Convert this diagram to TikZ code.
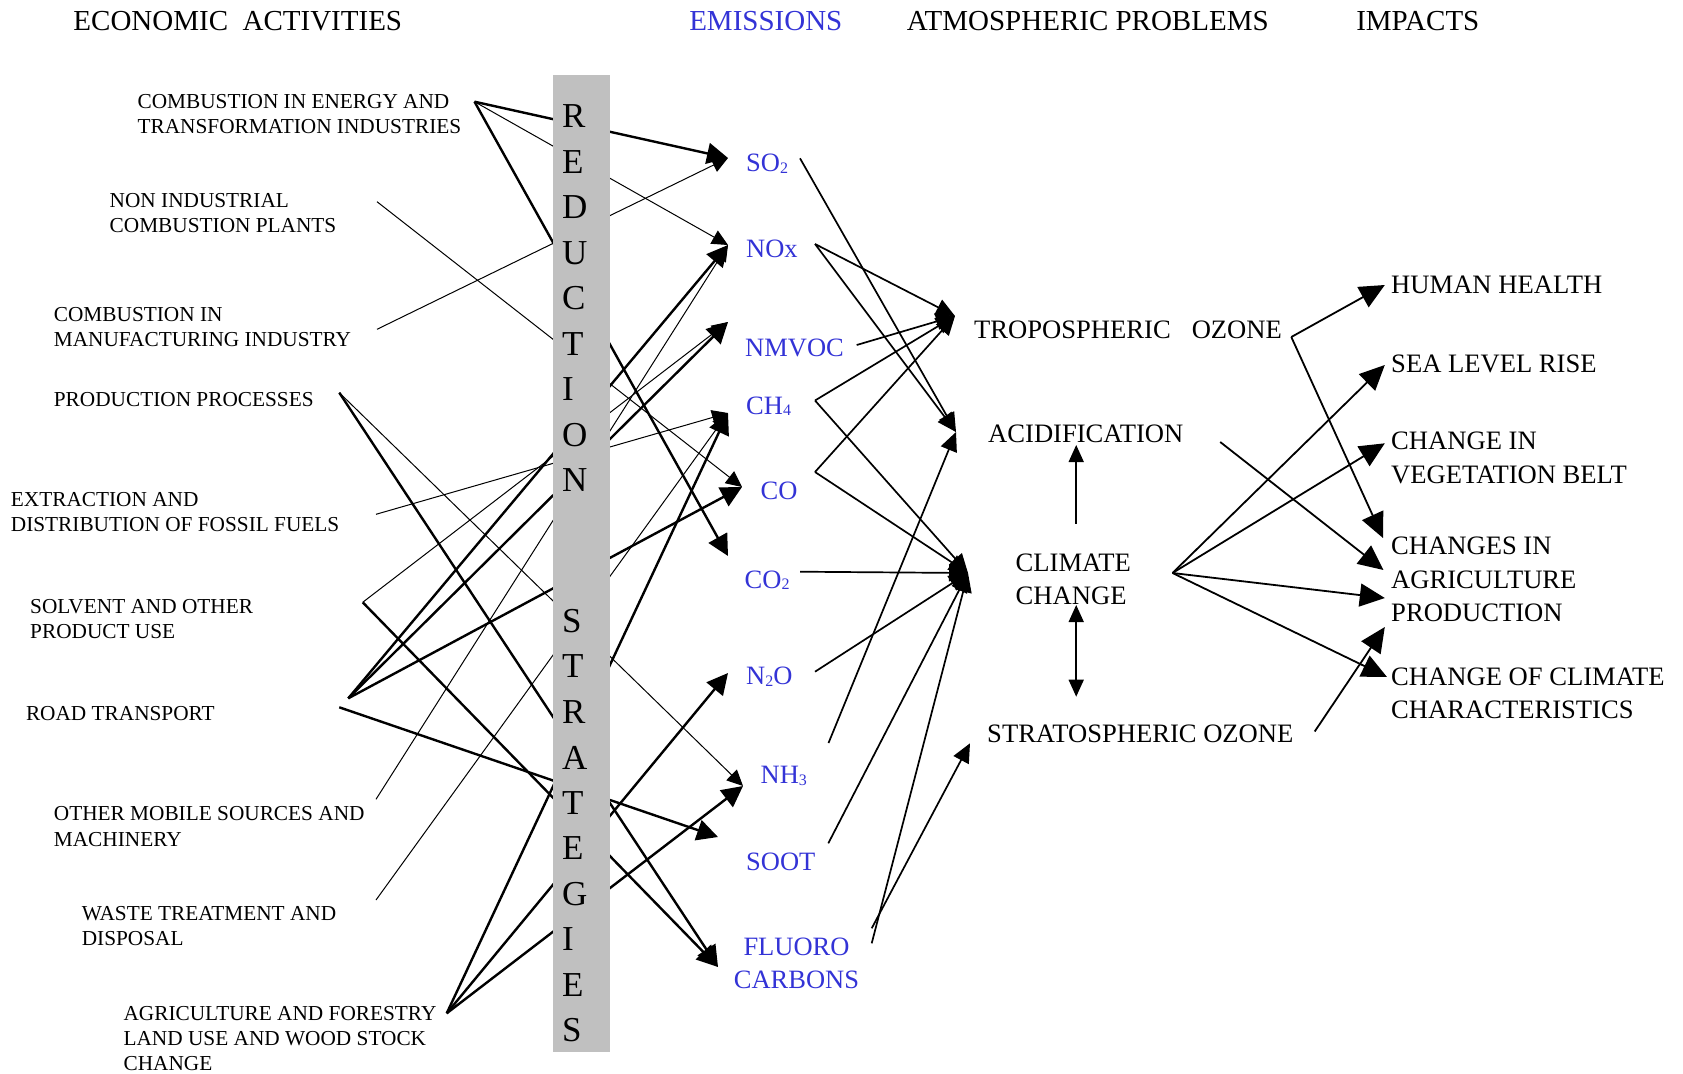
\documentclass[tikz,border=0pt]{standalone}
\usepackage{fontspec}
\setmainfont{Liberation Serif}
\usepackage{xcolor}
\usepackage{tikz}
\usetikzlibrary{arrows.meta}
\definecolor{emisBlue}{RGB}{51,51,214}
\definecolor{barGray}{RGB}{192,192,192}
\newcommand{\hdfont}{\fontsize{29}{34}\selectfont}
\newcommand{\srcfont}{\fontsize{21.3}{25.2}\selectfont}
\newcommand{\emisfont}{\fontsize{26.5}{32.5}\selectfont}
\newcommand{\probfont}{\fontsize{26.6}{33.5}\selectfont}
\newcommand{\barfont}{\fontsize{35}{40}\selectfont}
\newcommand{\emsub}[1]{\raisebox{-1.5pt}{\fontsize{16}{16}\selectfont #1}}

\begin{document}
\begin{tikzpicture}[x=1pt, y=-1pt,
    heading/.style={inner sep=0pt, font=\hdfont},
    srclabel/.style={anchor=west, inner sep=0pt, align=left, font=\srcfont},
    emlabel/.style={anchor=base west, inner sep=0pt, text=emisBlue, font=\emisfont},
    problabel/.style={anchor=base west, inner sep=0pt, align=left, font=\probfont},
    barletter/.style={anchor=west, inner sep=0pt, font=\barfont},
    thickarr/.style={line width=2.4pt, -{Triangle[length=21pt,width=21pt]}},
    thinarr/.style={line width=1pt, -{Triangle[length=16pt,width=15pt]}},
    linkarr/.style={line width=1.7pt, -{Triangle[length=19pt,width=17pt]}},
    vertarr/.style={line width=1.6pt, -{Triangle[length=17pt,width=15pt]}},
    effarr/.style={line width=1.8pt, -{Triangle[length=25pt,width=23pt]}}]
  \useasboundingbox (0,0) rectangle (1683,1073);

  % column headings
  \node[heading] (hdEcon) at (237.8,21.5) {ECONOMIC\ \ ACTIVITIES};
  \node[heading, text=emisBlue] (hdEmis) at (765.8,21.5) {EMISSIONS};
  \node[heading] (hdAtm) at (1087.8,21.5) {ATMOSPHERIC PROBLEMS};
  \node[heading] (hdImp) at (1417.8,21.5) {IMPACTS};

  % economic activities
  \node[srclabel] (energy) at (137.4,114.3) {COMBUSTION IN ENERGY AND\\TRANSFORMATION INDUSTRIES};
  \node[srclabel] (nonind) at (109.5,213) {NON INDUSTRIAL\\COMBUSTION PLANTS};
  \node[srclabel] (manuf) at (53.7,327.4) {COMBUSTION IN\\MANUFACTURING INDUSTRY};
  \node[srclabel] (prodproc) at (53.7,399.3) {PRODUCTION PROCESSES};
  \node[srclabel] (extract) at (10.7,512) {EXTRACTION AND\\DISTRIBUTION OF FOSSIL FUELS};
  \node[srclabel] (solvent) at (30,619.3) {SOLVENT AND OTHER\\PRODUCT USE};
  \node[srclabel] (road) at (25.8,713.7) {ROAD TRANSPORT};
  \node[srclabel] (othermob) at (53.7,826.5) {OTHER MOBILE SOURCES AND\\MACHINERY};
  \node[srclabel] (waste) at (81.6,926.3) {WASTE TREATMENT AND\\DISPOSAL};
  \node[srclabel] (agric) at (123.4,1038.6) {AGRICULTURE AND FORESTRY\\LAND USE AND WOOD STOCK\\CHANGE};

  % emissions
  \node[emlabel] (so2) at (746,171.8) {SO\emsub{2}};
  \node[emlabel] (nox) at (746,257.3) {NOx};
  \node[emlabel] (nmvoc) at (745,356.8) {NMVOC};
  \node[emlabel] (ch4) at (746,414.3) {CH\emsub{4}};
  \node[emlabel] (co) at (760.5,499.1) {CO};
  \node[emlabel] (co2) at (744.5,588.2) {CO\emsub{2}};
  \node[emlabel] (n2o) at (746,684.7) {N\emsub{2}O};
  \node[emlabel] (nh3) at (760.5,783.8) {NH\emsub{3}};
  \node[emlabel] (soot) at (746,870.2) {SOOT};
  \node[inner sep=0pt, align=center, text=emisBlue, font=\emisfont] (fluoro) at (796.5,963.4) {FLUORO\\CARBONS};

  % atmospheric problems
  \node[problabel] (tropo) at (974,338.8) {TROPOSPHERIC\hspace{21pt}OZONE};
  \node[problabel] (acid) at (988,442.6) {ACIDIFICATION};
  \node[problabel, anchor=west] (climate) at (1015.5,579.5) {CLIMATE\\CHANGE};
  \node[problabel] (strato) at (987,742.1) {STRATOSPHERIC OZONE};

  % impacts
  \node[problabel] (health) at (1391,293.5) {HUMAN HEALTH};
  \node[problabel] (sealevel) at (1391,372.1) {SEA LEVEL RISE};
  \node[problabel, anchor=west] (vegbelt) at (1391,458) {CHANGE IN\\VEGETATION BELT};
  \node[problabel, anchor=west] (agriprod) at (1391,579.5) {CHANGES IN\\AGRICULTURE\\PRODUCTION};
  \node[problabel, anchor=west] (climchar) at (1391,693.3) {CHANGE OF CLIMATE\\CHARACTERISTICS};

  % line ends
  \coordinate (energy-o) at (474.5,101.7);
  \coordinate (nonind-o) at (377,201.7);
  \coordinate (manuf-o) at (377,329.3);
  \coordinate (prodproc-o) at (339.3,392.7);
  \coordinate (extract-o) at (376,514.3);
  \coordinate (solvent-o) at (362.7,602.3);
  \coordinate (road-o) at (348.3,698.3);
  \coordinate (road-o2) at (339.3,707.3);
  \coordinate (othermob-o) at (376,799.3);
  \coordinate (waste-o) at (376,900);
  \coordinate (agric-o) at (446.7,1013.3);

  \coordinate (so2-i) at (728,158);
  \coordinate (nox-i) at (728,245);
  \coordinate (nmvoc-i) at (728,322);
  \coordinate (ch4-i) at (728,413);
  \coordinate (co-i) at (742,487);
  \coordinate (co2-i) at (728,556);
  \coordinate (n2o-i) at (728,673);
  \coordinate (nh3-i) at (743,786);
  \coordinate (soot-i) at (718,837);
  \coordinate (fluoro-i) at (718,967);

  \coordinate (so2-o) at (800,158.3);
  \coordinate (nox-o) at (815,244);
  \coordinate (nmvoc-o) at (856.7,345);
  \coordinate (ch4-o) at (815,400.5);
  \coordinate (co-o) at (815,472);
  \coordinate (co2-o) at (800,571.7);
  \coordinate (n2o-o) at (815,671.7);
  \coordinate (nh3-o) at (828.5,743);
  \coordinate (soot-o) at (828.3,843.3);
  \coordinate (fluoro-o) at (871.7,943.3);
  \coordinate (fluoro-o2) at (871.7,928.3);

  \coordinate (tropo-i) at (955,316);
  \coordinate (acid-i) at (956,432);
  \coordinate (climate-i) at (968,573);
  \coordinate (strato-i) at (970,743.3);
  \coordinate (tropo-o) at (1291.3,337);
  \coordinate (acid-o) at (1220.2,442);
  \coordinate (climate-o) at (1172.5,573);
  \coordinate (strato-o) at (1314.7,731.5);
  \coordinate (climate-up) at (1076.2,523.5);
  \coordinate (acid-dn) at (1076.2,445);
  \coordinate (climate-dn) at (1076.2,605);
  \coordinate (strato-up) at (1076.2,696.7);

  \coordinate (health-i) at (1384.8,285);
  \coordinate (sealevel-i) at (1384.8,365);
  \coordinate (vegbelt-i) at (1384.8,443.3);
  \coordinate (agriprod-ia) at (1383,538);
  \coordinate (agriprod-ib) at (1383.5,570);
  \coordinate (agriprod-ic) at (1384.8,598);
  \coordinate (agriprod-id) at (1384.8,627);
  \coordinate (climchar-i) at (1387,677);

  % activities -> emissions
  \foreach \s/\e in {energy-o/so2-i, energy-o/co2-i, road-o/nox-i, road-o/nmvoc-i,
      road-o/co-i, prodproc-o/fluoro-i, road-o2/soot-i, agric-o/ch4-i,
      solvent-o/fluoro-i, agric-o/n2o-i, agric-o/nh3-i}
    \draw[thickarr] (\s) -- (\e);
  \foreach \s/\e in {energy-o/nox-i, manuf-o/so2-i, nonind-o/co-i, solvent-o/nmvoc-i,
      extract-o/ch4-i, othermob-o/nox-i, prodproc-o/nh3-i, waste-o/ch4-i}
    \draw[thinarr] (\s) -- (\e);

  % reduction strategies bar
  \fill[barGray] (552.7,75) rectangle (609.6,1051.7);
  \foreach \ch [count=\i from 0] in {R,E,D,U,C,T,I,O,N}
    \node[barletter] (red\i) at (562,116.5+45.5*\i) {\ch};
  \foreach \ch [count=\i from 0] in {S,T,R,A,T,E,G,I,E,S}
    \node[barletter] (str\i) at (562,621+45.5*\i) {\ch};

  % emissions -> atmospheric problems
  \foreach \s/\e in {so2-o/acid-i, nox-o/tropo-i, nox-o/acid-i, nmvoc-o/tropo-i,
      ch4-o/tropo-i, ch4-o/climate-i, co-o/tropo-i, co-o/climate-i, co2-o/climate-i,
      n2o-o/climate-i, nh3-o/acid-i, soot-o/climate-i, fluoro-o/climate-i, fluoro-o2/strato-i}
    \draw[linkarr] (\s) -- (\e);
  \draw[vertarr] (climate-up) -- (acid-dn);
  \draw[vertarr, {Triangle[length=17pt,width=15pt]}-{Triangle[length=17pt,width=15pt]}] (climate-dn) -- (strato-up);

  % problems -> impacts
  \foreach \s/\e in {tropo-o/health-i, tropo-o/agriprod-ia, acid-o/agriprod-ib,
      climate-o/sealevel-i, climate-o/vegbelt-i, climate-o/agriprod-ic,
      climate-o/climchar-i, strato-o/agriprod-id}
    \draw[effarr] (\s) -- (\e);
\end{tikzpicture}
\end{document}
